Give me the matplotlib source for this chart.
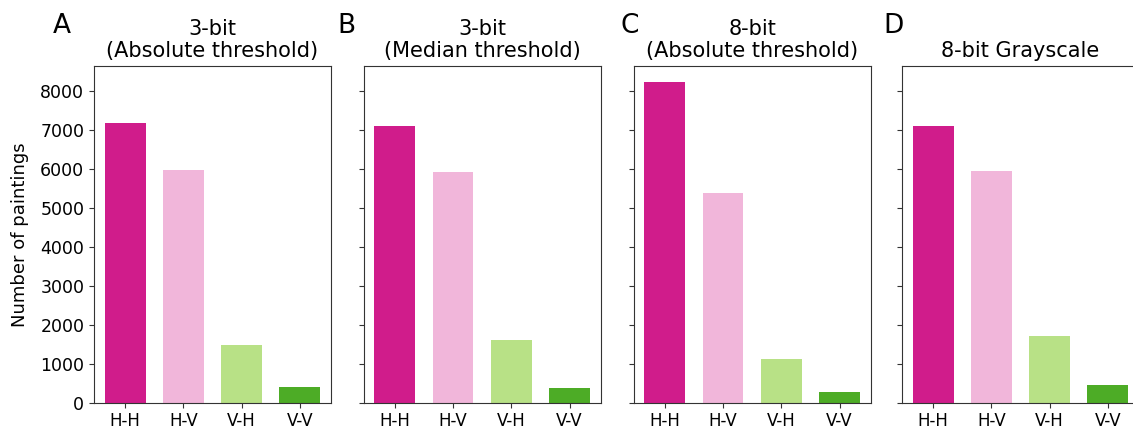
import matplotlib
matplotlib.use("Agg")
import matplotlib.pyplot as plt
import numpy as np

# pair categories and counts per panel
categories = ["H-H", "H-V", "V-H", "V-V"]
titles = ["3-bit\n(Absolute threshold)", "3-bit\n(Median threshold)",
          "8-bit\n(Absolute threshold)", "8-bit Grayscale"]
letters = ["A", "B", "C", "D"]

counts_3bit_abs = [7200, 5990, 1490, 400]
counts_3bit_med = [7120, 5940, 1610, 380]
counts_8bit_abs = [8250, 5400, 1120, 275]
counts_8bit_gray = [7100, 5960, 1710, 455]

colors = ["#d01c8b", "#f1b6da", "#b8e186", "#4dac26"]

W, H = 1133, 434
fig = plt.figure(figsize=(W / 100, H / 100), dpi=100)

lefts = [94, 363.7, 633.7, 902]
letter_x = [53, 337, 620, 883]
ax_w, ax_bot, ax_h = 237, 31.3, 337

all_counts = [counts_3bit_abs, counts_3bit_med, counts_8bit_abs, counts_8bit_gray]
axes = []
for i, vals in enumerate(all_counts):
    if i == 0:
        ax = fig.add_axes([lefts[i] / W, ax_bot / H, ax_w / W, ax_h / H])
    else:
        ax = fig.add_axes([lefts[i] / W, ax_bot / H, ax_w / W, ax_h / H], sharey=axes[0])
        plt.setp(ax.get_yticklabels(), visible=False)
    x = np.arange(len(categories))
    ax.bar(x, vals, width=0.7, color=colors)
    ax.set_xticks(x)
    ax.set_xticklabels(categories, fontsize=12)
    ax.tick_params(axis="y", labelsize=12.5)
    ax.set_title(titles[i], fontsize=15, linespacing=1.15)
    for s in ax.spines.values():
        s.set_color("#333333")
    ax.tick_params(color="#333333")
    fig.text(letter_x[i] / W, 1 - 33 / H, letters[i], fontsize=19,
             ha="left", va="baseline")
    axes.append(ax)

axes[-1].spines["right"].set_visible(False)
axes[0].set_ylabel("Number of paintings", fontsize=13, labelpad=8)

fig.savefig("out.png", dpi=100)
